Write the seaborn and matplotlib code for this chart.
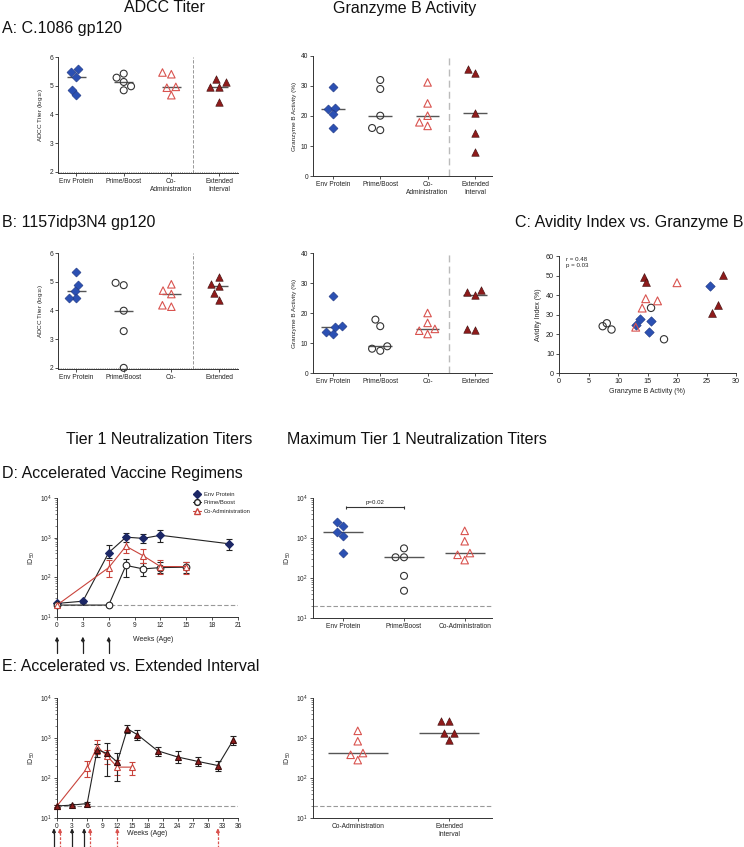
import numpy as np
import pandas as pd
import matplotlib
matplotlib.use("Agg")
import matplotlib.pyplot as plt
from matplotlib.lines import Line2D
import seaborn as sns

# ---------------- data ----------------
groups = ["Env Protein", "Prime/Boost", "Co-Administration", "Extended Interval"]
xlabels_A = ["Env Protein", "Prime/Boost", "Co-\nAdministration", "Extended\nInterval"]
xlabels_B = ["Env Protein", "Prime/Boost", "Co-", "Extended"]

adcc_A_env = [5.48, 5.59, 5.30, 4.86, 4.67]
adcc_A_pb = [5.28, 5.42, 5.13, 4.98, 4.84]
adcc_A_co = [5.40, 5.46, 4.96, 4.93, 4.67]
adcc_A_ext = [5.22, 5.13, 4.96, 4.96, 4.43]

gzb_A_env = [29.6, 22.2, 22.8, 20.6, 16.1]
gzb_A_pb = [32.0, 29.0, 20.1, 15.3, 16.0]
gzb_A_co = [31.2, 24.2, 20.1, 16.7, 17.9]
gzb_A_ext = [35.7, 34.2, 20.9, 14.2, 7.9]

adcc_B_env = [5.34, 4.90, 4.68, 4.44, 4.44]
adcc_B_pb = [4.96, 4.88, 3.99, 3.28, 2.00]
adcc_B_co = [4.91, 4.69, 4.57, 4.13, 4.18]
adcc_B_ext = [5.18, 4.93, 4.84, 4.60, 4.37]

gzb_B_env = [25.6, 15.2, 15.6, 13.7, 13.0]
gzb_B_pb = [17.8, 15.6, 8.9, 7.4, 8.1]
gzb_B_co = [20.0, 16.7, 14.7, 14.1, 13.0]
gzb_B_ext = [27.0, 25.9, 27.8, 14.4, 14.8]

# avidity index, paired with the 1157idp3N4 granzyme B values above
avid_env = [44.4, 21.1, 26.9, 27.8, 24.5]
avid_pb = [17.3, 33.4, 22.3, 24.0, 25.5]
avid_co = [46.3, 37.0, 38.1, 33.3, 23.5]
avid_ext = [35.1, 30.9, 50.2, 49.2, 46.5]
corr_text = "r = 0.48\np = 0.03"

adcc_lod = 2.0
id50_lod = 20

# Tier 1 neutralization time courses (GMT with error bar lower/upper)
weeks_env = [0, 3, 6, 8, 10, 12, 20]
env_gmt = [22, 25, 420, 1030, 960, 1150, 700]
env_lo = [20, 23, 300, 790, 740, 790, 490]
env_hi = [24, 27, 650, 1320, 1230, 1540, 940]

weeks_pb = [0, 6, 8, 10, 12, 15]
pb_gmt = [20, 20, 200, 163, 176, 180]
pb_lo = [20, 20, 104, 110, 127, 127]
pb_hi = [20, 20, 283, 224, 250, 250]

weeks_co = [0, 6, 8, 10, 12, 15]
co_gmt = [20, 176, 610, 350, 187, 187]
co_lo = [19, 104, 400, 224, 118, 120]
co_hi = [21, 273, 910, 505, 275, 250]

weeks_ext = [0, 3, 6, 8, 10, 12, 14, 16, 20, 24, 28, 32, 35]
ext_gmt = [20, 21, 23, 510, 410, 250, 1700, 1210, 480, 335, 260, 205, 870]
ext_lo = [19, 20, 22, 340, 110, 85, 1340, 910, 360, 240, 196, 147, 680]
ext_hi = [21, 22, 25, 700, 760, 420, 2150, 1620, 610, 460, 340, 260, 1140]

accel_vax_weeks = [0, 3, 6]
ext_vax_weeks = [0, 6, 12, 32]

max_env = [2000, 2520, 1410, 1140, 410]
max_pb = [550, 330, 330, 113, 48]
max_co = [1510, 830, 420, 380, 280]
max_ext = [2680, 2620, 1340, 1340, 910]
p_text = "p=0.02"

# ---------------- style ----------------
sns.set_theme(style="ticks")
plt.rcParams["font.family"] = ["Liberation Sans", "DejaVu Sans"]
plt.rcParams["mathtext.default"] = "regular"
plt.rcParams["axes.linewidth"] = 0.7
plt.rcParams["axes.edgecolor"] = "#333333"

STY = {
    "Env Protein": dict(marker="D", face="#2b50b3", edge="#1d3580", size=4.6, lw=0.4),
    "Prime/Boost": dict(marker="o", face="none", edge="#333333", size=5.0, lw=0.8),
    "Co-Administration": dict(marker="^", face="none", edge="#d9534f", size=5.4, lw=0.8),
    "Extended Interval": dict(marker="^", face="#8e1b1b", edge="#3b0c0c", size=5.4, lw=0.4),
}

W, H = 744, 847
fig = plt.figure(figsize=(W / 100, H / 100), dpi=100)


def add_ax(x0, y0, x1, y1):
    return fig.add_axes([x0 / W, 1 - y1 / H, (x1 - x0) / W, (y1 - y0) / H])


def style_ax(ax):
    sns.despine(ax=ax)
    ax.tick_params(labelsize=4.8, length=2, width=0.6, pad=1.5, colors="#333333",
                   labelcolor="#222222")
    ax.tick_params(which="minor", length=1.2, width=0.4)


def dot_panel(ax, series, order, hw):
    rows = [(g, v) for g, vals in series.items() for v in vals]
    df = pd.DataFrame(rows, columns=["group", "value"])
    for g, vals in series.items():
        st = STY[g]
        col = st["edge"] if st["face"] == "none" else st["face"]
        n_before = len(ax.collections)
        sns.swarmplot(data=df[df["group"] == g], x="group", y="value", order=order,
                      marker=st["marker"], color=col, facecolor=st["face"],
                      edgecolor=st["edge"], linewidth=st["lw"], size=st["size"],
                      ax=ax, clip_on=False, warn_thresh=1)
        for coll in list(ax.collections[n_before:]):
            # drop the empty placeholder collections made for the other categories
            if len(coll.get_offsets()) != len(vals):
                coll.remove()
                continue
            coll.set_facecolor(st["face"])
            coll.set_edgecolor(st["edge"])
        i = order.index(g)
        ax.hlines(np.median(vals), i - hw, i + hw, color="#555555", lw=1.0, zorder=2)


def fig_text(x, y, s, size=11.5, ha="left"):
    fig.text(x / W, 1 - y / H, s, fontsize=size, ha=ha, va="center", color="#111111")


# ---------------- A / B category panels ----------------
def adcc_panel(box, series, labels):
    ax = add_ax(*box)
    dot_panel(ax, series, groups, 0.2)
    ax.set_ylim(1.96, 6.0)
    ax.set_yticks([2, 3, 4, 5, 6])
    ax.set_xlim(-0.38, 3.40)
    ax.axhline(adcc_lod, color="#888888", lw=0.6, ls=":", zorder=1)
    ax.axvline(2.45, color="#888888", lw=0.6, ls=(0, (4, 2)), zorder=1)
    ax.set_xticks(range(4))
    ax.set_xticklabels(labels)
    ax.set_xlabel("")
    ax.set_ylabel("ADCC Titer (log$_{10}$)", fontsize=4.6, labelpad=3)
    style_ax(ax)
    return ax


def gzb_panel(box, series, labels):
    ax = add_ax(*box)
    dot_panel(ax, series, groups, 0.25)
    ax.set_ylim(0, 40)
    ax.set_yticks([0, 10, 20, 30, 40])
    ax.set_xlim(-0.42, 3.36)
    ax.axvline(2.45, color="#bbbbbb", lw=1.0, ls=(0, (5, 3)), zorder=1)
    ax.set_xticks(range(4))
    ax.set_xticklabels(labels)
    ax.set_xlabel("")
    ax.set_ylabel("Granzyme B Activity (%)", fontsize=4.6, labelpad=3)
    style_ax(ax)
    return ax


adcc_panel((58, 57, 238, 173),
           {groups[0]: adcc_A_env, groups[1]: adcc_A_pb, groups[2]: adcc_A_co, groups[3]: adcc_A_ext},
           xlabels_A)
gzb_panel((313, 56, 492, 176),
          {groups[0]: gzb_A_env, groups[1]: gzb_A_pb, groups[2]: gzb_A_co, groups[3]: gzb_A_ext},
          xlabels_A)
adcc_panel((58, 253, 238, 369),
           {groups[0]: adcc_B_env, groups[1]: adcc_B_pb, groups[2]: adcc_B_co, groups[3]: adcc_B_ext},
           xlabels_B)
gzb_panel((313, 253, 492, 373),
          {groups[0]: gzb_B_env, groups[1]: gzb_B_pb, groups[2]: gzb_B_co, groups[3]: gzb_B_ext},
          xlabels_B)

# ---------------- C scatter ----------------
axc = add_ax(559, 256, 736, 373)
for g, xs, ys in [(groups[1], gzb_B_pb, avid_pb), (groups[0], gzb_B_env, avid_env),
                  (groups[2], gzb_B_co, avid_co), (groups[3], gzb_B_ext, avid_ext)]:
    st = STY[g]
    col = st["edge"] if st["face"] == "none" else st["face"]
    n_before = len(axc.collections)
    sns.scatterplot(x=xs, y=ys, ax=axc, marker=st["marker"], color=col,
                    facecolor=st["face"], edgecolor=st["edge"], linewidth=st["lw"],
                    s=(st["size"] * 1.05) ** 2, zorder=3, clip_on=False, legend=False)
    for coll in axc.collections[n_before:]:
        coll.set_facecolor(st["face"])
        coll.set_edgecolor(st["edge"])
axc.set_xlim(0, 30)
axc.set_ylim(0, 60)
axc.set_xticks(range(0, 31, 5))
axc.set_yticks(range(0, 61, 10))
axc.set_xlabel("Granzyme B Activity (%)", fontsize=5, labelpad=2)
axc.set_ylabel("Avidity Index (%)", fontsize=5, labelpad=3)
axc.text(0.04, 0.99, corr_text, transform=axc.transAxes, fontsize=4.4, va="top",
         ha="left", linespacing=1.3, color="#222222")
style_ax(axc)
axc.tick_params(labelsize=5.2)


# ---------------- D / E time courses ----------------
def time_course(ax, weeks, gmt, lo, hi, marker, mfc, mec, lc, ms):
    gmt_a, lo_a, hi_a = np.array(gmt), np.array(lo), np.array(hi)
    ax.errorbar(weeks, gmt_a, yerr=[gmt_a - lo_a, hi_a - gmt_a], fmt="none", ecolor=lc,
                elinewidth=0.8, capsize=2.4, capthick=0.8, zorder=2, clip_on=False)
    sns.lineplot(x=weeks, y=gmt, ax=ax, color=lc, marker=marker, markersize=ms,
                 markerfacecolor=mfc, markeredgecolor=mec, markeredgewidth=0.8, lw=0.8,
                 errorbar=None, legend=False, clip_on=False, zorder=3)


def vax_arrows(ax, weeks, color, dashed, tip, tail, dx=0.0):
    tr = ax.get_xaxis_transform()
    for w in weeks:
        xw = w + dx
        ax.plot([xw, xw], [tail, tip - 0.03], transform=tr, color=color, lw=0.9,
                ls=(0, (2.2, 1.2)) if dashed else "-", clip_on=False)
        ax.annotate("", xy=(xw, tip), xytext=(xw, tip - 0.045), xycoords=tr,
                    annotation_clip=False,
                    arrowprops=dict(arrowstyle="-|>", color=color, lw=0.9,
                                    mutation_scale=5, shrinkA=0, shrinkB=0))


axd = add_ax(57, 498, 238, 617)
axd.set_yscale("log")
time_course(axd, weeks_env, env_gmt, env_lo, env_hi, "D", "#1c2766", "#1c2766", "#222222", 4.2)
time_course(axd, weeks_pb, pb_gmt, pb_lo, pb_hi, "o", "white", "#222222", "#222222", 4.8)
time_course(axd, weeks_co, co_gmt, co_lo, co_hi, "^", "white", "#c9443c", "#c9443c", 5.0)
axd.axhline(id50_lod, color="#999999", lw=0.8, ls=(0, (4, 2)), zorder=1)
axd.set_xlim(0, 21)
axd.set_ylim(10, 10000)
axd.set_xticks(range(0, 22, 3))
axd.set_ylabel("ID$_{50}$", fontsize=5, labelpad=2)
axd.set_xlabel("")
axd.text(0.53, -0.185, "Weeks (Age)", transform=axd.transAxes, fontsize=5, ha="center",
         va="center", color="#222222")
vax_arrows(axd, accel_vax_weeks, "#222222", False, -0.165, -0.30)
handles = [
    Line2D([0], [0], color="#222222", lw=0.8, marker="D", ms=3.6, mfc="#1c2766", mec="#1c2766"),
    Line2D([0], [0], color="#222222", lw=0.8, marker="o", ms=4.2, mfc="white", mec="#222222"),
    Line2D([0], [0], color="#c9443c", lw=0.8, marker="^", ms=4.4, mfc="white", mec="#c9443c"),
]
axd.legend(handles, groups[:3], loc="upper left", bbox_to_anchor=(0.74, 1.07),
           frameon=False, fontsize=4.2, handlelength=1.3, handletextpad=0.5,
           labelspacing=0.55, borderaxespad=0)
style_ax(axd)

axe = add_ax(57, 698, 238, 818)
axe.set_yscale("log")
time_course(axe, weeks_co, co_gmt, co_lo, co_hi, "^", "white", "#c9443c", "#c9443c", 5.0)
time_course(axe, weeks_ext, ext_gmt, ext_lo, ext_hi, "^", "#8e1b1b", "#3b0c0c", "#222222", 5.0)
axe.axhline(id50_lod, color="#999999", lw=0.8, ls=(0, (4, 2)), zorder=1)
axe.set_xlim(0, 36)
axe.set_ylim(10, 10000)
axe.set_xticks(range(0, 37, 3))
axe.set_ylabel("ID$_{50}$", fontsize=5, labelpad=2)
axe.set_xlabel("")
axe.text(0.50, -0.125, "Weeks (Age)", transform=axe.transAxes, fontsize=5, ha="center",
         va="center", color="#222222")
both = set(accel_vax_weeks) & set(ext_vax_weeks)
for w in accel_vax_weeks:
    vax_arrows(axe, [w], "#222222", False, -0.085, -0.27, -0.6 if w in both else 0.0)
for w in ext_vax_weeks:
    vax_arrows(axe, [w], "#d9534f", True, -0.085, -0.27, 0.6 if w in both else 0.0)
style_ax(axe)

# ---------------- D / E maximum titers ----------------
axdm = add_ax(313, 498, 492, 618)
axdm.set_yscale("log")
dot_panel(axdm, {groups[0]: max_env, groups[1]: max_pb, groups[2]: max_co}, groups[:3], 0.33)
axdm.axhline(id50_lod, color="#999999", lw=0.8, ls=(0, (4, 2)), zorder=1)
axdm.set_ylim(10, 10000)
axdm.set_xlim(-0.5, 2.45)
axdm.set_xticks(range(3))
axdm.set_xticklabels(groups[:3])
axdm.set_xlabel("")
axdm.set_ylabel("ID$_{50}$", fontsize=5, labelpad=2)
yb = 5900
axdm.plot([0.05, 1.0], [yb, yb], color="#333333", lw=0.8)
axdm.vlines([0.05, 1.0], yb * 0.92, yb * 1.08, color="#333333", lw=0.8)
axdm.text(0.52, yb * 1.12, p_text, fontsize=4.4, ha="center", va="bottom", color="#222222")
style_ax(axdm)

axem = add_ax(313, 698, 492, 818)
axem.set_yscale("log")
dot_panel(axem, {groups[2]: max_co, groups[3]: max_ext}, groups[2:], 0.33)
axem.axhline(id50_lod, color="#999999", lw=0.8, ls=(0, (4, 2)), zorder=1)
axem.set_ylim(10, 10000)
axem.set_xlim(-0.49, 1.47)
axem.set_xticks(range(2))
axem.set_xticklabels(["Co-Administration", "Extended\nInterval"])
axem.set_xlabel("")
axem.set_ylabel("ID$_{50}$", fontsize=5, labelpad=2)
style_ax(axem)

# ---------------- headings ----------------
fig_text(164, 8, "ADCC Titer", ha="center")
fig_text(405, 8, "Granzyme B Activity", ha="center")
fig_text(2, 28, "A: C.1086 gp120")
fig_text(2, 222, "B: 1157idp3N4 gp120")
fig_text(515, 222, "C: Avidity Index vs. Granzyme B")
fig_text(159, 439, "Tier 1 Neutralization Titers", ha="center")
fig_text(417, 439, "Maximum Tier 1 Neutralization Titers", ha="center")
fig_text(2, 473, "D: Accelerated Vaccine Regimens")
fig_text(2, 666, "E: Accelerated vs. Extended Interval")

fig.savefig("out.png", dpi=100)
